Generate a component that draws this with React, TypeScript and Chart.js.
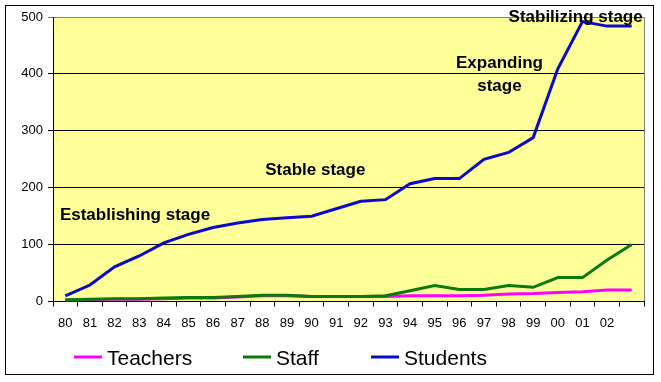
import React, { useEffect, useRef } from 'react';
import { Chart, registerables } from 'chart.js';

Chart.register(...registerables);

const years = ['80', '81', '82', '83', '84', '85', '86', '87', '88', '89', '90', '91', '92', '93', '94', '95', '96', '97', '98', '99', '00', '01', '02', ''];
const students = [10, 29, 61, 80, 103, 118, 130, 138, 144, 147, 150, 163, 176, 179, 207, 216, 216, 250, 262, 288, 409, 492, 484, 484];
const staff = [3, 4, 5, 5, 6, 7, 7, 9, 11, 11, 9, 9, 9, 10, 19, 28, 21, 21, 28, 25, 42, 42, 73, 100];
const teachers = [2, 3, 4, 4, 5, 6, 6, 8, 10, 10, 9, 9, 9, 9, 10, 10, 10, 11, 13, 14, 16, 17, 20, 20];

const yMin = 0;
const yMax = 500;
const yStep = 100;

// stage notes anchored in data space (category index, value)
const noteTexts = ['Establishing stage', 'Stable stage', 'Expanding', 'stage', 'Stabilizing stage'];
const noteX = [-0.22, 8.12, 17.63, 17.63, 18.0];
const noteY = [144, 222, 410, 370.5, 491];
const noteAlign = ['left', 'left', 'center', 'center', 'left'];

const legendOrder = ['Teachers', 'Staff', 'Students'];

const FONT = 'Liberation Sans, Arial, sans-serif';

export default function App() {
  const ref = useRef<HTMLCanvasElement | null>(null);

  useEffect(() => {
    const canvas = ref.current;
    if (!canvas) return;

    const framePlugin = {
      id: 'frame',
      beforeDraw(chart: any) {
        const { ctx, chartArea: a, width, height } = chart;
        ctx.save();
        ctx.fillStyle = '#ffffff';
        ctx.fillRect(0, 0, width, height);
        ctx.strokeStyle = '#000000';
        ctx.lineWidth = 1;
        ctx.strokeRect(5.5, 5.5, 648, 369);
        ctx.fillStyle = '#FFFF99';
        ctx.fillRect(a.left, a.top, a.right - a.left, a.bottom - a.top);
        ctx.strokeStyle = '#808080';
        ctx.beginPath();
        ctx.moveTo(Math.round(a.right) + 0.5, a.top);
        ctx.lineTo(Math.round(a.right) + 0.5, a.bottom);
        ctx.stroke();
        ctx.restore();
      },
    };

    const notesPlugin = {
      id: 'notes',
      afterDatasetsDraw(chart: any) {
        const { ctx } = chart;
        const xs = chart.scales.x;
        const ys = chart.scales.y;
        ctx.save();
        ctx.fillStyle = '#000000';
        ctx.font = `bold 17px ${FONT}`;
        ctx.textBaseline = 'alphabetic';
        noteTexts.forEach((t, i) => {
          const x0 = xs.getPixelForValue(0);
          const x1 = xs.getPixelForValue(1);
          const px = x0 + (x1 - x0) * noteX[i];
          const py = ys.getPixelForValue(noteY[i]);
          ctx.textAlign = noteAlign[i];
          ctx.fillText(t, px, py);
        });
        ctx.restore();
      },
    };

    const legendX = [74, 243, 371];
    const legendPlugin = {
      id: 'customLegend',
      afterDraw(chart: any) {
        const { ctx } = chart;
        ctx.save();
        ctx.font = `21px ${FONT}`;
        ctx.textBaseline = 'alphabetic';
        ctx.textAlign = 'left';
        legendOrder.forEach((name, i) => {
          const ds = chart.data.datasets.find((d: any) => d.label === name);
          if (!ds) return;
          const x = legendX[i];
          ctx.strokeStyle = ds.borderColor;
          ctx.lineWidth = 3;
          ctx.beginPath();
          ctx.moveTo(x, 357);
          ctx.lineTo(x + 28, 357);
          ctx.stroke();
          ctx.fillStyle = '#000000';
          ctx.fillText(name, x + 33, 365);
        });
        ctx.restore();
      },
    };

    const chart = new Chart(canvas, {
      type: 'line',
      data: {
        labels: years,
        datasets: [
          { label: 'Students', data: students, borderColor: '#0A0ACC', backgroundColor: '#0A0ACC', borderWidth: 3, pointRadius: 0, tension: 0 },
          { label: 'Staff', data: staff, borderColor: '#0B7A0B', backgroundColor: '#0B7A0B', borderWidth: 3, pointRadius: 0, tension: 0 },
          { label: 'Teachers', data: teachers, borderColor: '#FF00FF', backgroundColor: '#FF00FF', borderWidth: 3, pointRadius: 0, tension: 0 },
        ],
      },
      options: {
        responsive: false,
        animation: false,
        layout: { padding: { left: 0, right: 17, top: 17, bottom: 0 } },
        plugins: {
          legend: { display: false },
          tooltip: { enabled: false },
        },
        scales: {
          x: {
            type: 'category',
            offset: true,
            afterFit: (s: any) => { s.height = 80.5; },
            grid: { offset: true, drawOnChartArea: false, drawTicks: true, tickLength: 5, color: '#000000' },
            border: { display: true, color: '#000000', width: 1 },
            ticks: { autoSkip: false, maxRotation: 0, minRotation: 0, padding: 9, color: '#000000', font: { family: FONT, size: 13 } },
          },
          y: {
            min: yMin,
            max: yMax,
            afterFit: (s: any) => { s.width = 53; },
            grid: {
              drawTicks: true,
              tickLength: 5,
              color: (c: any) => (c.tick && c.tick.value === yMax ? '#808080' : '#000000'),
            },
            border: { display: true, color: '#000000', width: 1 },
            ticks: { stepSize: yStep, padding: 5, color: '#000000', font: { family: FONT, size: 13 } },
          },
        },
      },
      plugins: [framePlugin, notesPlugin, legendPlugin],
    } as any);

    return () => chart.destroy();
  }, []);

  return (
    <div style={{ position: 'fixed', left: 0, top: 0, width: 661, height: 382, background: '#fff' }}>
      <canvas ref={ref} width={661} height={382} style={{ display: 'block', width: 661, height: 382 }} />
    </div>
  );
}
